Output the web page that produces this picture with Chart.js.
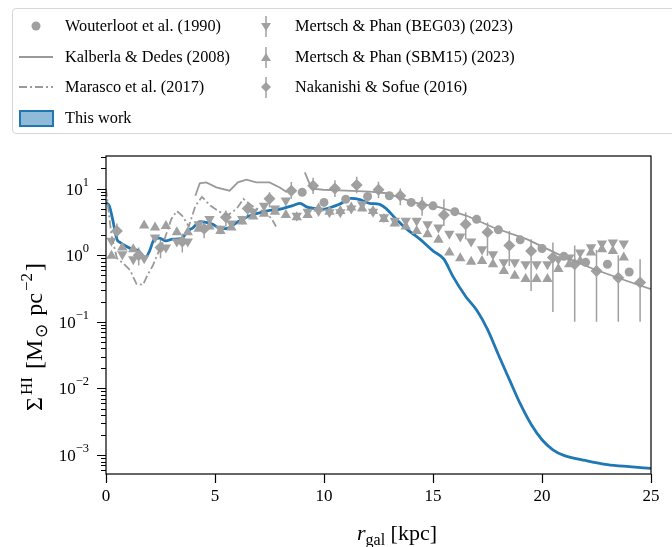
<!DOCTYPE html>
<html>
<head>
<meta charset="utf-8">
<script src="https://cdn.jsdelivr.net/npm/chart.js@4.4.1/dist/chart.umd.min.js"></script>
<style>
  html, body { margin: 0; padding: 0; background: #fff; }
  #wrap { position: relative; width: 672px; height: 547px; overflow: hidden; }
  #c { position: absolute; left: 0; top: 0; }
  #legend { position: absolute; left: 12px; top: 8px; width: 680px; height: 124px;
            border: 1px solid #d6d6d6; border-radius: 4px; background: rgba(255,255,255,0.8);
            font-family: "Liberation Serif", serif; font-size: 16.3px; color: #000; }
  .item { position: absolute; height: 20px; line-height: 20px; white-space: nowrap; }
  .item svg { position: absolute; left: 0; top: -4px; }
  .item span { position: absolute; left: 52px; top: 0; }
</style>
</head>
<body>
<div id="wrap">
<canvas id="c" width="672" height="547"></canvas>
<div id="legend"></div>
</div>
<script>
// ---------------- data ----------------
// This work
const workR   = [0, 0.15, 0.3, 0.5, 0.65, 0.9, 1.2, 1.5, 1.8, 2.0, 2.2, 2.45, 2.75, 3.05, 3.45, 3.75, 4.0, 4.3, 4.6, 4.9, 5.2, 5.5, 6.0, 6.6, 7.35, 8.1, 8.6, 8.9, 9.2, 9.6, 10.0, 10.3, 10.7, 11.25, 11.65, 12.1, 12.55, 12.85, 13.3, 13.8, 14.4, 15.0, 15.5, 15.9, 16.5, 17.0, 17.5, 18.0, 18.5, 19.0, 19.5, 20.0, 20.5, 21.0, 22.0, 23.0, 24.0, 25.0];
const workVal = [6.2, 5.5, 3.5, 1.74, 1.55, 1.38, 1.23, 1.16, 0.92, 1.16, 1.7, 1.8, 1.64, 1.74, 1.78, 2.3, 2.6, 3.2, 3.1, 2.9, 2.55, 2.5, 3.1, 3.9, 4.6, 5.0, 5.6, 6.0, 5.3, 5.0, 4.9, 5.2, 5.8, 7.1, 6.8, 6.0, 5.8, 5.0, 3.5, 2.46, 1.74, 1.16, 0.87, 0.49, 0.24, 0.15, 0.077, 0.032, 0.0137, 0.0059, 0.0029, 0.0017, 0.0012, 0.00099, 0.00083, 0.00072, 0.00067, 0.00063];

// Kalberla & Dedes (2008)  (null = gap)
const kalR   = [4.1, 4.3, 4.6, 5.06, 5.67, 6.05, 6.44, 6.9, 7.5, 7.97, 8.3, 8.7, 9.12, 9.43, 9.96, 11.0, 12.1, 12.87, 14.1, 15.32, 16.55, 17.77, 19.3, 20.83, 22.36, 23.9, 25.0];
const kalVal = [7.8, 12, 12.4, 10.4, 9.3, 12.4, 13.6, 12.4, 12.4, 10.4, 8.8, null, 17.5, 10, 9.6, 9.3, 9.0, 8.5, 6.2, 5.2, 3.9, 2.6, 1.74, 1.0, 0.62, 0.41, 0.31];

// Marasco et al. (2017)
const marR   = [0, 0.25, 0.5, 0.8, 1.1, 1.4, 1.7, 1.9, 2.15, 2.4, 2.7, 3.0, 3.25, 3.5, 3.8, 4.1, 4.4, 4.8, 5.2, 5.6, 6.0, 6.3, 6.7, 7.0, 7.3, 7.6, 7.8];
const marVal = [10, 2.0, 0.9, 0.75, 0.6, 0.37, 0.36, 0.5, 0.7, 1.1, 1.8, 3.5, 4.6, 3.9, 2.7, 5.5, 7.5, 5.5, 4.5, 4.0, 5.0, 7.0, 5.5, 4.8, 4.5, 3.5, 2.7];

// Wouterloot et al. (1990)
const wouR   = [9, 10, 11, 12, 13, 14, 15, 16, 17, 18, 19, 20, 21, 22, 23, 24];
const wouVal = [8.8, 6.2, 6.9, 7.6, 7.8, 6.2, 5.5, 4.5, 3.45, 2.4, 1.7, 1.26, 0.96, 0.78, 0.73, 0.56];

// Mertsch & Phan (2023)
const mpR = [0.25, 0.75, 1.25, 1.75, 2.25, 2.75, 3.25, 3.75, 4.25, 4.75, 5.25, 5.75, 6.25, 6.75, 7.25, 7.75, 8.25, 8.75, 9.25, 9.75, 10.25, 10.75, 11.25, 11.75, 12.25, 12.75, 13.25, 13.75, 14.25, 14.75, 15.25, 15.75, 16.25, 16.75, 17.25, 17.75, 18.25, 18.75, 19.25, 19.75, 20.25, 20.75, 21.25, 21.75, 22.25, 22.75, 23.25, 23.75];
const begVal = [1.64, 1.03, 0.87, 0.9, 1.84, 1.3, 1.6, 1.6, 2.9, 3.5, 2.5, 3.0, 3.5, 4.5, 5.5, 5.0, 6.6, 3.9, 4.5, 4.6, 4.4, 4.4, 5.0, 5.8, 4.5, 3.7, 3.3, 3.3, 3.3, 2.9, 2.6, 2.1, 1.9, 1.6, 1.23, 1.03, 0.78, 0.78, 0.73, 0.73, 0.73, 0.87, 0.92, 1.1, 1.31, 1.5, 1.55, 1.5];
const sbmVal = [0.98, 1.3, 1.23, 2.8, 2.6, 2.75, 2.2, 2.2, 2.5, 2.7, 2.3, 2.6, 3.2, 3.8, 4.2, 4.5, 4.0, 3.7, 4.0, 5.0, 4.5, 4.6, 5.2, 5.0, 4.6, 3.5, 3.0, 2.7, 2.3, 2.07, 1.7, 1.1, 0.9, 0.8, 0.82, 0.73, 0.58, 0.49, 0.44, 0.44, 0.44, 0.62, 0.73, 0.82, 1.1, 1.23, 1.16, 0.92];

// Nakanishi & Sofue (2016)
const nakR   = [0.5, 1.5, 2.5, 3.5, 4.5, 5.5, 6.5, 7.5, 8.5, 9.5, 10.5, 11.5, 12.5, 13.5, 14.5, 15.5, 16.5, 17.5, 18.5, 19.5, 20.5, 21.5, 22.5, 23.5, 24.5];
const nakVal = [2.3, 1.0, 1.3, 1.6, 2.5, 3.7, 5.0, 7.0, 9.3, 11, 10, 11.3, 9.6, 7.8, 5.6, 4.0, 2.9, 2.2, 1.4, 1.16, 0.92, 0.73, 0.58, 0.46, 0.39];
const nakLo  = [1.6, 0.7, 0.9, 1.1, 1.8, 2.7, 3.7, 5.2, 7.0, 8.3, 7.5, 8.5, 7.2, 5.6, 3.9, 2.75, 1.74, 0.98, 0.69, 0.29, 0.14, 0.1, 0.1, 0.1, 0.1];
const nakHi  = [3.0, 1.3, 1.7, 2.1, 3.2, 4.7, 6.3, 8.8, 12.5, 14.5, 13.3, 15, 12.7, 10, 7.5, 6.9, 4.4, 3.1, 2.3, 1.74, 1.55, 1.4, 1.2, 1.0, 0.87];

const xTicks = [0, 5, 10, 15, 20, 25];
const yTickExp = [1, 0, -1, -2, -3];

// ---------------- helpers ----------------
const pts = (xs, ys) => xs.map((x, i) => ({ x: x, y: ys[i] }));
const GREY = '#a0a0a0';
const GREYL = '#9a9a9a';
const BLUE = '#1f77b4';
const FONT = '"Liberation Serif", "Times New Roman", serif';

const errorBars = {
  id: 'errorBars',
  beforeDatasetsDraw(chart) {
    const ctx = chart.ctx, xs = chart.scales.x, ys = chart.scales.y;
    chart.data.datasets.forEach((ds, i) => {
      if (!ds.errLo) return;
      ctx.save();
      ctx.strokeStyle = ds.borderColor; ctx.lineWidth = 1.5;
      ctx.beginPath();
      ds.data.forEach((p, j) => {
        const px = xs.getPixelForValue(p.x);
        const y1 = Math.max(ys.getPixelForValue(ds.errHi[j]), chart.chartArea.top);
        const y2 = Math.min(ys.getPixelForValue(ds.errLo[j]), chart.chartArea.bottom);
        ctx.moveTo(px, y1); ctx.lineTo(px, y2);
      });
      ctx.stroke();
      ctx.restore();
    });
  }
};

const axesDecor = {
  id: 'axesDecor',
  afterDraw(chart) {
    const ctx = chart.ctx, xs = chart.scales.x, ys = chart.scales.y, a = chart.chartArea;
    ctx.save();
    ctx.strokeStyle = '#000'; ctx.lineWidth = 1.2;
    // frame
    ctx.strokeRect(a.left, a.top, a.right - a.left, a.bottom - a.top);
    ctx.beginPath();
    xTicks.forEach(v => { const px = Math.round(xs.getPixelForValue(v)) + 0.5; ctx.moveTo(px, a.bottom); ctx.lineTo(px, a.bottom + 9); });
    // y ticks major + minor
    for (let e = -4; e <= 2; e++) {
      for (let m = 1; m <= 9; m++) {
        const v = m * Math.pow(10, e);
        if (v < ys.min || v > ys.max) continue;
        const py = Math.round(ys.getPixelForValue(v)) + 0.5;
        ctx.moveTo(a.left, py); ctx.lineTo(a.left - (m === 1 ? 9 : 5), py);
      }
    }
    ctx.stroke();
    // y tick labels 10^n
    ctx.fillStyle = '#000';
    ctx.textBaseline = 'alphabetic';
    yTickExp.forEach(e => {
      const py = ys.getPixelForValue(Math.pow(10, e));
      const sup = e < 0 ? '\u2212' + Math.abs(e) : String(e);
      ctx.font = '12.5px ' + FONT;
      const ws = ctx.measureText(sup).width;
      ctx.font = '17px ' + FONT;
      const wb = ctx.measureText('10').width;
      const right = a.left - 17;
      ctx.textAlign = 'left';
      ctx.fillText('10', right - ws - wb, py + 6);
      ctx.font = '12.5px ' + FONT;
      ctx.fillText(sup, right - ws, py - 3);
    });
    // x title
    ctx.font = 'italic 22px ' + FONT;
    const cx = 397;
    const wr = ctx.measureText('r').width;
    ctx.font = '16px ' + FONT;
    const wg = ctx.measureText('gal').width;
    ctx.font = '22px ' + FONT;
    const wk = ctx.measureText(' [kpc]').width;
    let x0 = cx - (wr + wg + wk) / 2;
    const by = 540;
    ctx.font = 'italic 22px ' + FONT; ctx.fillText('r', x0, by); x0 += wr;
    ctx.font = '16px ' + FONT; ctx.fillText('gal', x0, by + 5); x0 += wg;
    ctx.font = '22px ' + FONT; ctx.fillText(' [kpc]', x0, by);
    // y title (rotated)
    ctx.save();
    ctx.translate(42, 336);
    ctx.rotate(-Math.PI / 2);
    const parts = [
      { t: '\u03A3', f: '24px', dy: 0 },
      { t: 'HI', f: '17px', dy: -10 },
      { t: ' [M', f: '24px', dy: 0 },
      { t: '\u2299', f: '17px', dy: 5 },
      { t: ' pc', f: '24px', dy: 0 },
      { t: '\u22122', f: '17px', dy: -10 },
      { t: ']', f: '24px', dy: 0 }
    ];
    let tw = 0;
    parts.forEach(p => { ctx.font = p.f + ' ' + FONT; p.w = ctx.measureText(p.t).width + 2; tw += p.w; });
    let xx = -tw / 2;
    parts.forEach(p => { ctx.font = p.f + ' ' + FONT; ctx.fillText(p.t, xx, p.dy); xx += p.w; });
    ctx.restore();
    ctx.restore();
  }
};

const ctx = document.getElementById('c').getContext('2d');
new Chart(ctx, {
  type: 'scatter',
  data: {
    datasets: [
      { label: 'Wouterloot et al. (1990)', data: pts(wouR, wouVal), pointStyle: 'circle', pointRadius: 4.5,
        backgroundColor: GREY, borderColor: GREY, borderWidth: 0, showLine: false },
      { label: 'Kalberla & Dedes (2008)', data: pts(kalR, kalVal), showLine: true, spanGaps: false,
        borderColor: GREYL, borderWidth: 1.8, pointRadius: 0, tension: 0 },
      { label: 'Marasco et al. (2017)', data: pts(marR, marVal), showLine: true,
        borderColor: GREYL, borderWidth: 1.8, borderDash: [8, 3, 2, 3], pointRadius: 0, tension: 0 },
      { label: 'Mertsch & Phan (BEG03) (2023)', data: pts(mpR, begVal), pointStyle: 'triangle', rotation: 180,
        pointRadius: 6, backgroundColor: GREY, borderColor: GREY, borderWidth: 0, showLine: false },
      { label: 'Mertsch & Phan (SBM15) (2023)', data: pts(mpR, sbmVal), pointStyle: 'triangle',
        pointRadius: 6, backgroundColor: GREY, borderColor: GREY, borderWidth: 0, showLine: false },
      { label: 'Nakanishi & Sofue (2016)', data: pts(nakR, nakVal), errLo: nakLo, errHi: nakHi, pointStyle: 'rectRot',
        pointRadius: 6, backgroundColor: GREY, borderColor: GREY, borderWidth: 0, showLine: false },
      { label: 'This work', data: pts(workR, workVal), showLine: true, borderColor: BLUE, borderWidth: 2.8,
        pointRadius: 0, tension: 0.3, cubicInterpolationMode: 'monotone', backgroundColor: 'rgba(31,119,180,0.5)' }
    ]
  },
  options: {
    responsive: false, animation: false,
    layout: { padding: { left: 0, right: 21, top: 156, bottom: 0 } },
    plugins: { legend: { display: false }, tooltip: { enabled: false } },
    scales: {
      x: { type: 'linear', min: 0, max: 25,
           afterBuildTicks: s => { s.ticks = xTicks.map(v => ({ value: v })); },
           ticks: { font: { family: FONT, size: 17 }, color: '#000', padding: 12, maxRotation: 0 },
           grid: { display: false, drawTicks: false }, border: { display: false },
           afterFit: s => { s.height = 73; } },
      y: { type: 'logarithmic', min: 5.2e-4, max: 30.8,
           ticks: { display: false }, grid: { display: false, drawTicks: false }, border: { display: false },
           afterFit: s => { s.width = 106; } }
    }
  },
  plugins: [errorBars, axesDecor]
});

// ---------------- legend (HTML) ----------------
const legendItems = [
  { col: 0, row: 0, text: 'Wouterloot et al. (1990)', icon: '<circle cx="23" cy="14" r="4.5" fill="' + GREY + '"/>' },
  { col: 0, row: 1, text: 'Kalberla & Dedes (2008)', icon: '<line x1="6" y1="14" x2="40" y2="14" stroke="' + GREYL + '" stroke-width="1.8"/>' },
  { col: 0, row: 2, text: 'Marasco et al. (2017)', icon: '<line x1="6" y1="14" x2="40" y2="14" stroke="' + GREYL + '" stroke-width="1.8" stroke-dasharray="8 3 2 3"/>' },
  { col: 0, row: 3, text: 'This work', icon: '<rect x="7" y="7" width="33" height="15" fill="#8fbbd9" stroke="' + BLUE + '" stroke-width="2"/>' },
  { col: 1, row: 0, text: 'Mertsch & Phan (BEG03) (2023)', icon: '<line x1="23" y1="4" x2="23" y2="25" stroke="' + GREY + '" stroke-width="1.5"/><polygon points="18,11 28,11 23,19" fill="' + GREY + '"/>' },
  { col: 1, row: 1, text: 'Mertsch & Phan (SBM15) (2023)', icon: '<line x1="23" y1="4" x2="23" y2="25" stroke="' + GREY + '" stroke-width="1.5"/><polygon points="18,18 28,18 23,10" fill="' + GREY + '"/>' },
  { col: 1, row: 2, text: 'Nakanishi & Sofue (2016)', icon: '<line x1="23" y1="4" x2="23" y2="25" stroke="' + GREY + '" stroke-width="1.5"/><polygon points="23,9 28,14 23,19 18,14" fill="' + GREY + '"/>' }
];
const leg = document.getElementById('legend');
legendItems.forEach(it => {
  const d = document.createElement('div');
  d.className = 'item';
  d.style.left = (it.col === 0 ? 0 : 230) + 'px';
  d.style.top = (7 + it.row * 30.5) + 'px';
  d.innerHTML = '<svg width="48" height="28">' + it.icon + '</svg><span></span>';
  d.querySelector('span').textContent = it.text;
  leg.appendChild(d);
});
</script>
</body>
</html>
